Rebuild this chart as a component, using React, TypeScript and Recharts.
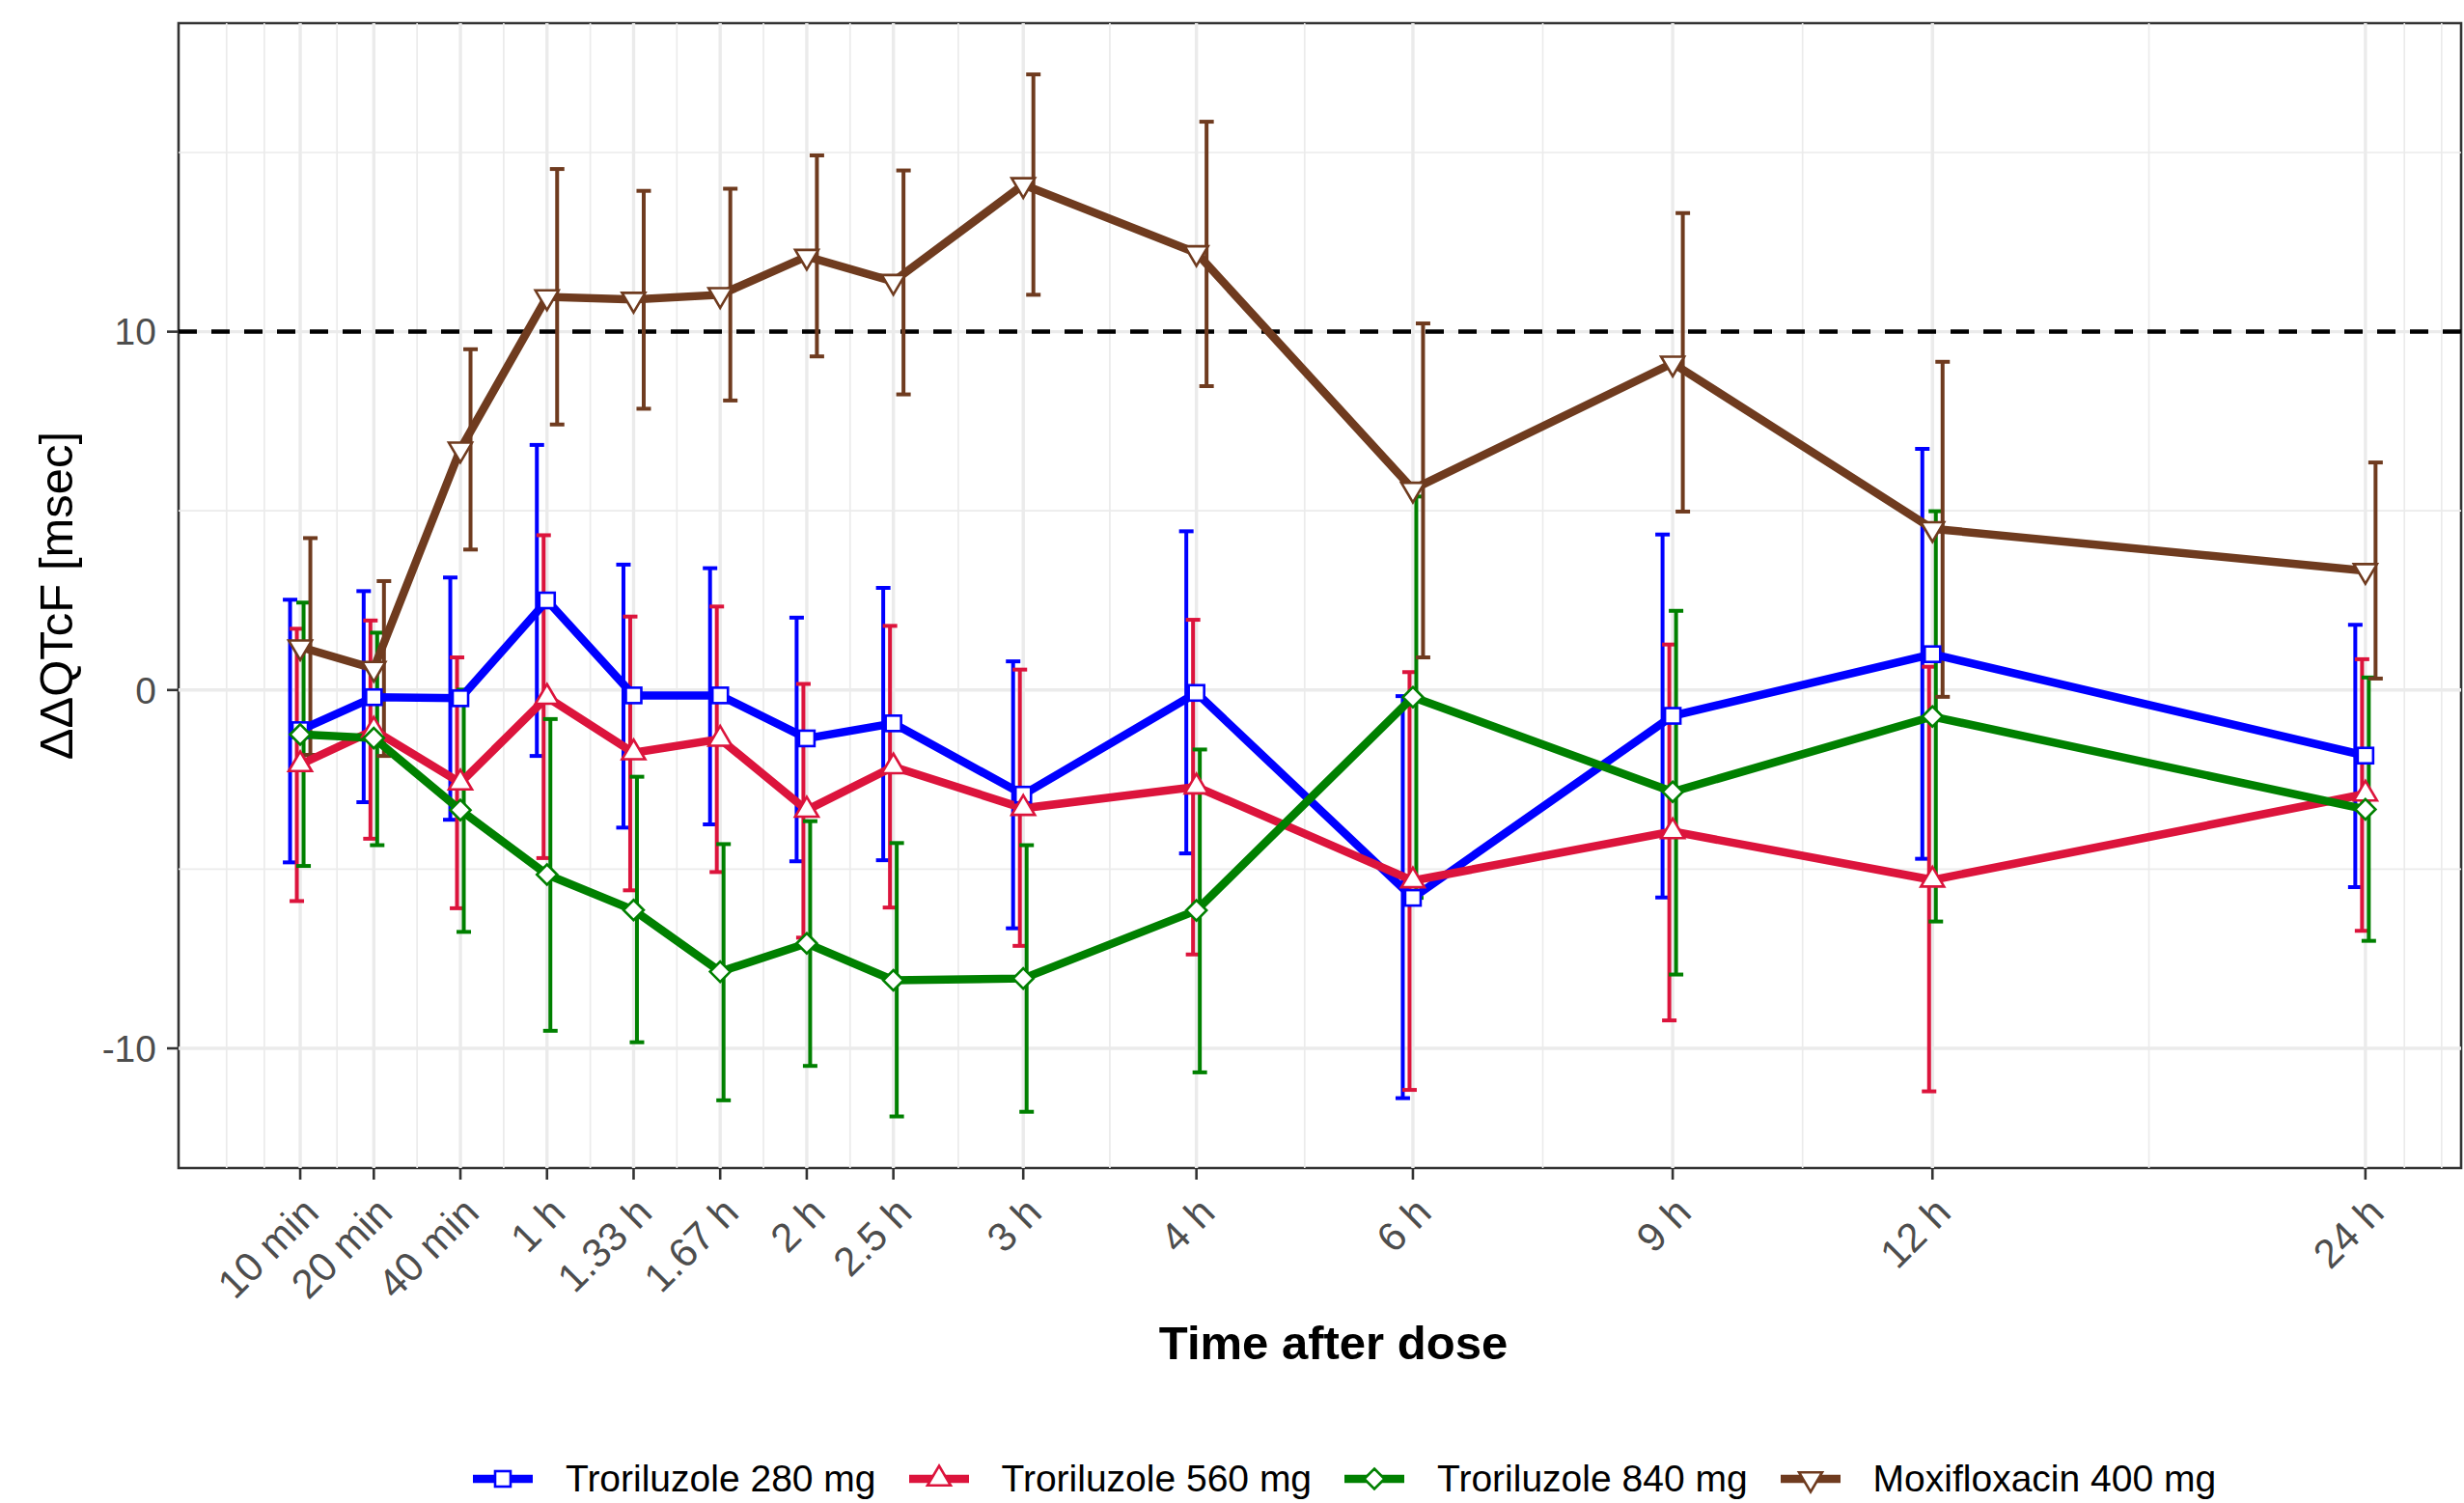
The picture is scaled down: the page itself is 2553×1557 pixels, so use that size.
import React from 'react';
import {
  ComposedChart,
  Line,
  Scatter,
  XAxis,
  YAxis,
  ReferenceLine,
  ReferenceArea,
  ErrorBar,
  Legend,
} from 'recharts';

// time points and where they sit on the (custom spaced) x axis
const timeLabels = ['10 min', '20 min', '40 min', '1 h', '1.33 h', '1.67 h', '2 h', '2.5 h', '3 h', '4 h', '6 h', '9 h', '12 h', '24 h'];
const timePos = [0.3, 2, 4, 6, 8, 10, 12, 14, 17, 21, 26, 32, 38, 48];
const extraMinorX = [-1.4, -0.53, 48.9, 49.76];

const yTicks = [-10, 0, 10];
const yMinor = [-15, -5, 5, 15];
const threshold = 10;

// Troriluzole 280 mg
const mean280 = [-1.12, -0.2, -0.23, 2.5, -0.15, -0.15, -1.35, -0.93, -2.92, -0.08, -5.8, -0.72, 1.0, -1.83];
const low280 = [-4.81, -3.13, -3.62, -1.84, -3.84, -3.75, -4.78, -4.75, -6.65, -4.56, -11.39, -5.79, -4.71, -5.5];
const high280 = [2.52, 2.76, 3.14, 6.84, 3.5, 3.4, 2.02, 2.85, 0.8, 4.43, -0.17, 4.34, 6.73, 1.82];

// Troriluzole 560 mg
const mean560 = [-2.08, -1.12, -2.59, -0.2, -1.75, -1.37, -3.35, -2.14, -3.3, -2.7, -5.32, -3.95, -5.3, -2.9];
const low560 = [-5.89, -4.15, -6.09, -4.69, -5.59, -5.08, -6.91, -6.07, -7.14, -7.38, -11.16, -9.22, -11.2, -6.72];
const high560 = [1.71, 1.94, 0.91, 4.32, 2.05, 2.33, 0.17, 1.79, 0.57, 1.96, 0.5, 1.27, 0.65, 0.86];

// Troriluzole 840 mg
const mean840 = [-1.24, -1.34, -3.35, -5.15, -6.14, -7.86, -7.07, -8.1, -8.05, -6.15, -0.2, -2.84, -0.74, -3.33];
const low840 = [-4.91, -4.33, -6.75, -9.51, -9.83, -11.45, -10.49, -11.9, -11.77, -10.67, -5.8, -7.94, -6.46, -7.0];
const high840 = [2.44, 1.6, 0.01, -0.81, -2.42, -4.3, -3.66, -4.27, -4.33, -1.66, 5.4, 2.21, 4.99, 0.35];

// Moxifloxacin 400 mg
const meanMoxi = [1.2, 0.6, 6.72, 10.97, 10.9, 11.03, 12.1, 11.4, 14.1, 12.2, 5.6, 9.12, 4.5, 3.33];
const lowMoxi = [-1.81, -1.84, 3.92, 7.41, 7.85, 8.08, 9.31, 8.25, 11.03, 8.48, 0.91, 4.98, -0.19, 0.32];
const highMoxi = [4.24, 3.04, 9.51, 14.54, 13.93, 13.99, 14.92, 14.5, 17.18, 15.86, 10.23, 13.31, 9.16, 6.35];

const FONT = "'Liberation Sans', Arial, Helvetica, sans-serif";
const X_DOMAIN: [number, number] = [-2.51, 50.21];
const Y_DOMAIN: [number, number] = [-13.34, 18.61];

type Kind = 'square' | 'up' | 'diamond' | 'down';

const series = [
  { name: 'Troriluzole 280 mg', color: '#0000FF', kind: 'square' as Kind, mean: mean280, low: low280, high: high280, dodge: -0.234 },
  { name: 'Troriluzole 560 mg', color: '#DC143C', kind: 'up' as Kind, mean: mean560, low: low560, high: high560, dodge: -0.078 },
  { name: 'Troriluzole 840 mg', color: '#008000', kind: 'diamond' as Kind, mean: mean840, low: low840, high: high840, dodge: 0.078 },
  { name: 'Moxifloxacin 400 mg', color: '#6F3B1F', kind: 'down' as Kind, mean: meanMoxi, low: lowMoxi, high: highMoxi, dodge: 0.234 },
];

const minorX = [
  ...timePos.slice(1).map((v, i) => (v + timePos[i]) / 2),
  ...extraMinorX,
];

function Marker({ kind, cx, cy, color }: { kind: Kind; cx: number; cy: number; color: string }) {
  const sw = 2.6;
  if (kind === 'square') {
    return <rect x={cx - 8} y={cy - 8} width={16} height={16} fill="#fff" stroke={color} strokeWidth={sw} />;
  }
  if (kind === 'up') {
    return <polygon points={`${cx},${cy - 13.5} ${cx + 12},${cy + 6.8} ${cx - 12},${cy + 6.8}`} fill="#fff" stroke={color} strokeWidth={sw} />;
  }
  if (kind === 'down') {
    return <polygon points={`${cx},${cy + 13.5} ${cx + 12},${cy - 6.8} ${cx - 12},${cy - 6.8}`} fill="#fff" stroke={color} strokeWidth={sw} />;
  }
  return <polygon points={`${cx},${cy - 10.5} ${cx + 10.5},${cy} ${cx},${cy + 10.5} ${cx - 10.5},${cy}`} fill="#fff" stroke={color} strokeWidth={sw} />;
}

const XTick = (props: any) => {
  const { x, y, payload } = props;
  const label = timeLabels[timePos.indexOf(payload.value)];
  return (
    <text
      x={x}
      y={y}
      dy="0.72em"
      textAnchor="end"
      fontSize={42}
      fill="#4D4D4D"
      fontFamily={FONT}
      transform={`rotate(-45 ${x} ${y})`}
    >
      {label}
    </text>
  );
};

const XTitle = (props: any) => {
  const vb = props.viewBox;
  return (
    <text x={vb.x + vb.width / 2 + 14} y={vb.y + 198} textAnchor="middle" fontSize={49} fontWeight="bold" fill="#000" fontFamily={FONT}>
      Time after dose
    </text>
  );
};

const YTitle = (props: any) => {
  const vb = props.viewBox;
  const cy = vb.y + vb.height / 2;
  return (
    <text x={75} y={cy} textAnchor="middle" fontSize={49} fill="#000" fontFamily={FONT} transform={`rotate(-90 75 ${cy})`}>
      ΔΔQTcF [msec]
    </text>
  );
};

const LegendContent = () => (
  <div style={{ display: 'flex', alignItems: 'center', height: 50, fontFamily: FONT, fontSize: 39, color: '#000' }}>
    {series.map((s) => (
      <div key={s.name} style={{ display: 'flex', alignItems: 'center' }}>
        <svg width={62} height={40} style={{ display: 'block' }}>
          <line x1={0} y1={20} x2={62} y2={20} stroke={s.color} strokeWidth={8.7} />
          <Marker kind={s.kind} cx={31} cy={20} color={s.color} />
        </svg>
        <span style={{ marginLeft: 34, marginRight: 34, whiteSpace: 'nowrap' }}>{s.name}</span>
      </div>
    ))}
  </div>
);

export default function App() {
  return (
    <div style={{ position: 'absolute', left: 0, top: 0, background: '#fff' }}>
      <ComposedChart width={2553} height={1557} margin={{ top: 24, right: 3, bottom: 0, left: 0 }}>
        <XAxis
          dataKey="x"
          type="number"
          domain={X_DOMAIN}
          allowDataOverflow
          ticks={timePos}
          interval={0}
          height={347}
          tickSize={12}
          tickMargin={15}
          tick={<XTick />}
          tickLine={{ stroke: '#333333', strokeWidth: 2.6 }}
          axisLine={false}
          label={<XTitle />}
        />
        <YAxis
          type="number"
          domain={Y_DOMAIN}
          allowDataOverflow
          ticks={yTicks}
          width={185}
          tickSize={12}
          tickMargin={11}
          tick={{ fontSize: 39, fill: '#4D4D4D', fontFamily: FONT }}
          tickLine={{ stroke: '#333333', strokeWidth: 2.6 }}
          axisLine={false}
          label={<YTitle />}
        />

        {minorX.map((v) => (
          <ReferenceLine key={`mx${v}`} x={v} stroke="#EBEBEB" strokeWidth={1.7} />
        ))}
        {yMinor.map((v) => (
          <ReferenceLine key={`my${v}`} y={v} stroke="#EBEBEB" strokeWidth={1.7} />
        ))}
        {timePos.map((v) => (
          <ReferenceLine key={`MX${v}`} x={v} stroke="#EBEBEB" strokeWidth={3.4} />
        ))}
        {yTicks.map((v) => (
          <ReferenceLine key={`MY${v}`} y={v} stroke="#EBEBEB" strokeWidth={3.4} />
        ))}
        <ReferenceLine y={threshold} stroke="#000" strokeWidth={4.5} strokeDasharray="19 15" />

        {series.map((s) => (
          <Scatter
            key={`eb-${s.name}`}
            data={timePos.map((x, i) => ({ x: x + s.dodge, y: s.mean[i], err: [s.mean[i] - s.low[i], s.high[i] - s.mean[i]] }))}
            dataKey="y"
            shape={() => <g />}
            isAnimationActive={false}
            legendType="none"
          >
            <ErrorBar dataKey="err" direction="y" width={7.5} stroke={s.color} strokeWidth={4} isAnimationActive={false} />
          </Scatter>
        ))}

        {series.map((s) => (
          <Line
            key={`ln-${s.name}`}
            data={timePos.map((x, i) => ({ x, y: s.mean[i] }))}
            dataKey="y"
            type="linear"
            stroke={s.color}
            strokeWidth={8.5}
            dot={false}
            activeDot={false}
            isAnimationActive={false}
            legendType="none"
          />
        ))}

        {series.map((s) => (
          <Scatter
            key={`pt-${s.name}`}
            data={timePos.map((x, i) => ({ x, y: s.mean[i] }))}
            dataKey="y"
            shape={(p: any) => <Marker kind={s.kind} cx={p.cx} cy={p.cy} color={s.color} />}
            isAnimationActive={false}
            legendType="none"
          />
        ))}

        <ReferenceArea
          x1={X_DOMAIN[0]}
          x2={X_DOMAIN[1]}
          y1={Y_DOMAIN[0]}
          y2={Y_DOMAIN[1]}
          fill="none"
          fillOpacity={0}
          stroke="#333333"
          strokeWidth={2.6}
        />

        <Legend
          layout="horizontal"
          verticalAlign="middle"
          align="center"
          content={<LegendContent />}
          wrapperStyle={{ position: 'absolute', left: 490, top: 1507, width: 1950, height: 50 }}
        />
      </ComposedChart>
    </div>
  );
}
